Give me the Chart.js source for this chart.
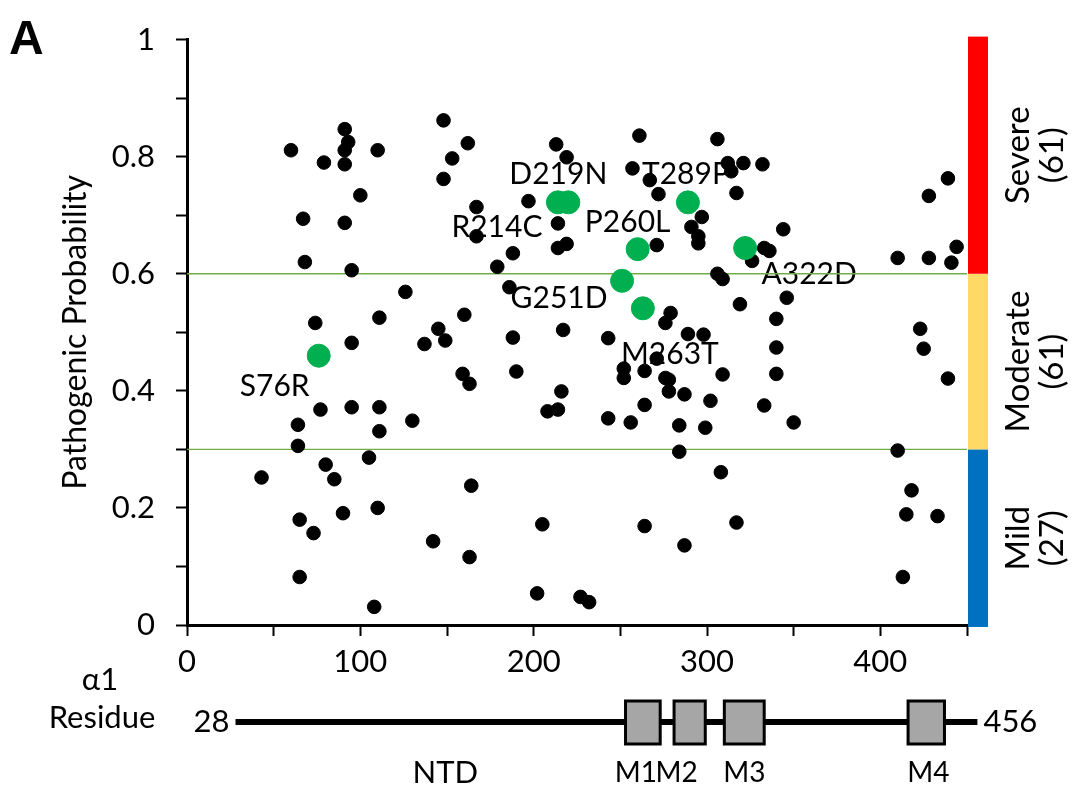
<!DOCTYPE html>
<html>
<head>
<meta charset="utf-8">
<script src="https://cdn.jsdelivr.net/npm/chart.js@4.4.0/dist/chart.umd.min.js"></script>
<style>
  html, body { margin: 0; padding: 0; background: #fff; }
</style>
</head>
<body>
<canvas id="chart" width="1076" height="785"></canvas>
<script>
  // residue number / pathogenic probability of every variant (black dots)
  const blackResidues = [
    43, 60, 64, 64, 65, 65, 67, 68, 73, 74, 77, 79, 80, 85, 90, 91, 93, 91, 91, 91,
    95, 95, 95, 100, 105, 108, 110, 110, 111, 111, 111, 126, 130, 137, 142, 145, 148, 148, 149, 153,
    159, 160, 162, 163, 163, 164, 167, 167, 179, 186, 188, 188, 190, 197, 202, 205, 208, 213, 214, 214,
    214, 216, 217, 219, 219, 227, 232, 243, 243, 252, 252, 256, 257, 261, 264, 264, 264, 267, 271, 271,
    272, 276, 279, 276, 278, 278, 284, 284, 287, 287, 289, 291, 295, 295, 297, 298, 299, 302, 306, 306,
    309, 308, 309, 312, 314, 317, 317, 319, 321, 326, 332, 333, 336, 333, 340, 340, 340, 344, 346, 350,
    410, 410, 413, 415, 418, 423, 425, 428, 428, 433, 439, 439, 441, 444
  ];
  const blackProbs = [
    0.252, 0.811, 0.342, 0.306, 0.18, 0.082, 0.694, 0.62, 0.157, 0.516, 0.368, 0.79, 0.274, 0.249, 0.191,
    0.847, 0.825, 0.811, 0.787, 0.687,
    0.606, 0.482, 0.372, 0.734, 0.286, 0.031, 0.2, 0.811, 0.525, 0.372, 0.331, 0.569, 0.349, 0.48, 0.143,
    0.506, 0.862, 0.762, 0.486, 0.797,
    0.429, 0.53, 0.823, 0.412, 0.116, 0.238, 0.714, 0.664, 0.612, 0.577, 0.635, 0.491, 0.433, 0.724, 0.054,
    0.172, 0.365, 0.821, 0.368, 0.686,
    0.644, 0.399, 0.504, 0.799, 0.651, 0.048, 0.039, 0.49, 0.353, 0.438, 0.422, 0.346, 0.78, 0.836, 0.434,
    0.376, 0.169, 0.76, 0.649, 0.455,
    0.736, 0.516, 0.533, 0.422, 0.419, 0.399, 0.341, 0.296, 0.394, 0.136, 0.497, 0.68, 0.664, 0.652, 0.697,
    0.496, 0.337, 0.383, 0.83, 0.6,
    0.591, 0.261, 0.428, 0.789, 0.775, 0.738, 0.175, 0.548, 0.789, 0.622, 0.787, 0.644, 0.639, 0.375, 0.523,
    0.474, 0.429, 0.676, 0.559, 0.346,
    0.627, 0.298, 0.082, 0.189, 0.23, 0.506, 0.472, 0.733, 0.627, 0.186, 0.763, 0.421, 0.619, 0.646
  ];

  // highlighted variants (green dots)
  const greenNames = ["S76R", "R214C", "D219N", "G251D", "P260L", "M263T", "T289P", "A322D"];
  const greenResidues = [76, 214, 220, 251, 260, 263, 289, 322];
  const greenProbs = [0.46, 0.722, 0.722, 0.588, 0.642, 0.541, 0.722, 0.644];

  const thresholds = [0.3, 0.6];
  const severityNames = ["Mild", "Moderate", "Severe"];
  const severityCounts = [27, 61, 61];
  const severityBounds = [0, 0.3, 0.6, 1];

  // alpha1 subunit map
  const proteinStart = 28;
  const proteinEnd = 456;
  const domainNames = ["M1", "M2", "M3", "M4"];
  const domainStart = [253, 281, 310, 416];
  const domainEnd = [273, 299, 333, 437];

  const xTickLabels = [0, 100, 200, 300, 400];
  const yTickLabels = [0, 0.2, 0.4, 0.6, 0.8, 1];

  // label placement (px offsets)
  const greenLabelOffsets = [
    [-44, 31], [-61, 25], [-10, -28], [-63, 18], [-10, -27], [27, 46], [-2, -28], [64, 26]
  ];
  const domainLabelShift = [-7, -13, 0, 2];
  const severityColors = ["#0070c0", "#ffd966", "#ff0000"];
  const FONT = "Lato, 'Open Sans', sans-serif";

  const toPoints = (xs, ys) => xs.map((v, i) => ({x: v, y: ys[i]}));

  const labelPlugin = {
    id: "greenLabels",
    beforeDatasetsDraw(chart) {
      const {ctx, scales: {x, y}} = chart;
      ctx.save();
      ctx.font = "30px " + FONT;
      ctx.fillStyle = "#000";
      ctx.textAlign = "center";
      ctx.textBaseline = "middle";
      greenNames.forEach((name, i) => {
        const px = x.getPixelForValue(greenResidues[i]);
        const py = y.getPixelForValue(greenProbs[i]);
        ctx.fillText(name, px + greenLabelOffsets[i][0], py + greenLabelOffsets[i][1]);
      });
      ctx.restore();
    },
  };

  const severityPlugin = {
    id: "severityBar",
    afterDraw(chart) {
      const {ctx, chartArea, scales: {y}} = chart;
      const x0 = chartArea.right + 1;
      ctx.save();
      severityNames.forEach((name, i) => {
        let yb = y.getPixelForValue(severityBounds[i]);
        let yt = y.getPixelForValue(severityBounds[i + 1]);
        if (i === 0) yb += 2;
        if (i === severityNames.length - 1) yt -= 3;
        ctx.fillStyle = severityColors[i];
        ctx.fillRect(x0, yt, 20, yb - yt);

        ctx.save();
        ctx.translate(1018, (yt + yb) / 2);
        ctx.rotate(-Math.PI / 2);
        ctx.font = "33px " + FONT;
        ctx.fillStyle = "#000";
        ctx.textAlign = "center";
        ctx.textBaseline = "middle";
        ctx.fillText(name, 0, 0);
        ctx.fillText("(" + severityCounts[i] + ")", 0, 34);
        ctx.restore();
      });
      ctx.restore();
    },
  };

  const residuePlugin = {
    id: "residueMap",
    afterDraw(chart) {
      const {ctx, scales: {x}} = chart;
      const lineY = 722;
      const xs = x.getPixelForValue(proteinStart);
      const xe = x.getPixelForValue(proteinEnd);
      ctx.save();
      ctx.strokeStyle = "#000";
      ctx.lineWidth = 6;
      ctx.beginPath();
      ctx.moveTo(xs, lineY);
      ctx.lineTo(xe, lineY);
      ctx.stroke();

      ctx.font = "31px " + FONT;
      ctx.fillStyle = "#000";
      ctx.textBaseline = "middle";
      ctx.textAlign = "right";
      ctx.fillText(String(proteinStart), xs - 6, lineY);
      ctx.textAlign = "left";
      ctx.fillText(String(proteinEnd), xe + 6, lineY);

      ctx.textAlign = "center";
      ctx.fillText("NTD", x.getPixelForValue(149), 773);
      ctx.fillText("\u03b11", 100, 680);
      ctx.fillText("Residue", 102, 718);

      ctx.font = "28px " + FONT;
      domainNames.forEach((name, i) => {
        const x1 = x.getPixelForValue(domainStart[i]);
        const x2 = x.getPixelForValue(domainEnd[i]);
        ctx.fillStyle = "#a6a6a6";
        ctx.fillRect(x1, 701, x2 - x1, 43);
        ctx.lineWidth = 3;
        ctx.strokeRect(x1, 701, x2 - x1, 43);
        ctx.fillStyle = "#000";
        ctx.fillText(name, (x1 + x2) / 2 + domainLabelShift[i], 773);
      });

      ctx.font = "bold 48px 'Liberation Sans', Arial, sans-serif";
      ctx.textAlign = "left";
      ctx.textBaseline = "alphabetic";
      ctx.fillText("A", 9, 54);
      ctx.restore();
    },
  };

  new Chart(document.getElementById("chart").getContext("2d"), {
    type: "scatter",
    data: {
      datasets: [
        {
          label: "highlighted",
          data: toPoints(greenResidues, greenProbs),
          backgroundColor: "#00b050",
          borderColor: "#00b050",
          pointRadius: 11.5,
        },
        {
          label: "variants",
          data: toPoints(blackResidues, blackProbs),
          backgroundColor: "#000",
          borderColor: "#000",
          pointRadius: 6.8,
        },
        ...thresholds.map((t) => ({
          type: "line",
          label: "threshold " + t,
          data: [{x: 0, y: t}, {x: 450, y: t}],
          borderColor: "#70ad47",
          borderWidth: 1.3,
          pointRadius: 0,
        })),
      ],
    },
    options: {
      responsive: false,
      animation: false,
      events: [],
      layout: {padding: {left: 56, top: 38, right: 109, bottom: 110}},
      plugins: {legend: {display: false}, tooltip: {enabled: false}},
      scales: {
        x: {
          type: "linear",
          min: 0,
          max: 450,
          afterFit: (s) => { s.height = 50; },
          ticks: {
            stepSize: 50,
            padding: 7,
            color: "#000",
            font: {family: FONT, size: 31},
            maxRotation: 0,
            callback: (v) => (xTickLabels.includes(v) ? String(v) : ""),
          },
          grid: {drawOnChartArea: false, tickLength: 11, tickWidth: 2, color: "#000"},
          border: {color: "#000", width: 3},
        },
        y: {
          min: 0,
          max: 1,
          afterFit: (s) => { s.width = 131; },
          ticks: {
            stepSize: 0.1,
            padding: 21,
            color: "#000",
            font: {family: FONT, size: 31},
            callback: (v) => {
              const r = Math.round(v * 10) / 10;
              return yTickLabels.includes(r) ? String(r) : "";
            },
          },
          grid: {drawOnChartArea: false, tickLength: 11, tickWidth: 2, color: "#000"},
          border: {color: "#000", width: 3},
          title: {
            display: true,
            text: "Pathogenic Probability",
            color: "#000",
            font: {family: FONT, size: 32},
            padding: {top: 0, bottom: 0},
          },
        },
      },
    },
    plugins: [labelPlugin, severityPlugin, residuePlugin],
  });
</script>
</body>
</html>
